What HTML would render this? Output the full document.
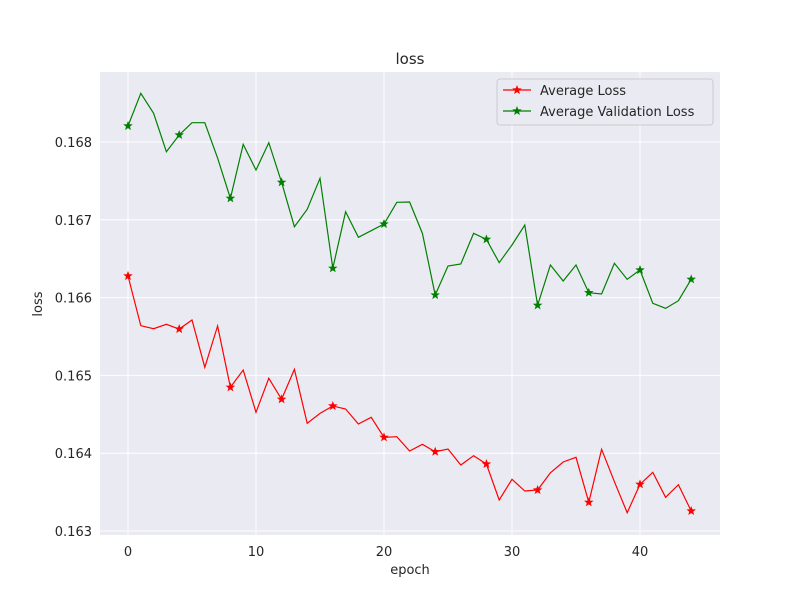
<!DOCTYPE html>
<html><head><meta charset="utf-8"><style>
body{margin:0;background:#fff;}
svg text{font-family:"DejaVu Sans","Liberation Sans",sans-serif;fill:#262626;}
</style></head><body>
<svg id="chart" width="800" height="600">
<rect x="100" y="72" width="620" height="463" fill="#eaeaf2"/>
<g id="grid"></g><g id="ticks"></g><g id="series"></g>
<text x="410" y="64" text-anchor="middle" font-size="15">loss</text>
<text x="410" y="574" text-anchor="middle" font-size="13">epoch</text>
<text transform="translate(42,304) rotate(-90)" text-anchor="middle" font-size="13">loss</text>
<g>
<rect x="497" y="79" width="216" height="46" rx="3" fill="#eaeaf2" stroke="#cccccc"/>
<g>
<line x1="503" y1="90" x2="531" y2="90" stroke="#ff0000" stroke-width="1.2"/>
<polygon id="lgs1" fill="#ff0000"/>
<text x="540" y="95" font-size="13">Average Loss</text></g>
<g>
<line x1="503" y1="111" x2="531" y2="111" stroke="#008000" stroke-width="1.2"/>
<polygon id="lgs2" fill="#008000"/>
<text x="540" y="116" font-size="13">Average Validation Loss</text></g>
</g>
</svg>
<script>
const epochs = Array.from({length:45},(_, i)=>i);
const avgLoss = [0.166278,0.165639,0.165600,0.165657,0.165596,0.165712,0.165104,0.165635,0.164847,0.165069,0.164526,0.164963,0.164693,0.165078,0.164384,0.164512,0.164607,0.164568,0.164375,0.164461,0.164204,0.164212,0.164028,0.164114,0.164019,0.164054,0.163848,0.163968,0.163861,0.163399,0.163665,0.163514,0.163527,0.163749,0.163887,0.163947,0.163369,0.164050,0.163634,0.163235,0.163600,0.163754,0.163433,0.163595,0.163257];
const avgValLoss = [0.168206,0.168626,0.168369,0.167875,0.168090,0.168248,0.168248,0.167794,0.167276,0.167970,0.167640,0.167991,0.167482,0.166911,0.167135,0.167533,0.166377,0.167104,0.166775,0.166860,0.166946,0.167225,0.167229,0.166826,0.166033,0.166406,0.166432,0.166826,0.166749,0.166449,0.166676,0.166933,0.165901,0.166419,0.166213,0.166419,0.166063,0.166046,0.166441,0.166235,0.166355,0.165927,0.165862,0.165960,0.166235];
const xTicks = [0,10,20,30,40];
const yTicks = [0.163,0.164,0.165,0.166,0.167,0.168];
const NS='http://www.w3.org/2000/svg';
const X = v => 128 + v*12.8;
const Y = v => 142 + (0.168 - v)/0.001*77.8;
function mk(tag, attrs, parent){const e=document.createElementNS(NS,tag);for(const k in attrs)e.setAttribute(k,attrs[k]);parent.appendChild(e);return e;}
function star(cx,cy,r){let p=[];for(let i=0;i<10;i++){const rr=i%2?r*0.42:r;const a=-Math.PI/2+i*Math.PI/5;p.push((cx+rr*Math.cos(a)).toFixed(2)+','+(cy+rr*Math.sin(a)).toFixed(2));}return p.join(' ');}
const grid=document.getElementById('grid'), ticks=document.getElementById('ticks'), series=document.getElementById('series');
xTicks.forEach(t=>{
  const l=mk('line',{x1:X(t),x2:X(t),y1:72,y2:535,stroke:'#fff','stroke-width':1},grid);
  
  
  const tx=mk('text',{x:X(t),y:556,'text-anchor':'middle','font-size':13},ticks);
  tx.textContent=t;
  
  
});
yTicks.forEach(t=>{
  const l=mk('line',{x1:100,x2:720,y1:Y(t),y2:Y(t),stroke:'#fff','stroke-width':1},grid);
  
  
  const tx=mk('text',{x:92,y:Y(t)+5,'text-anchor':'end','font-size':13},ticks);
  tx.textContent=t.toFixed(3);
  
  
});
function drawSeries(vals,color,name){
  const pl=mk('polyline',{points:vals.map((v,i)=>X(epochs[i])+','+Y(v)).join(' '),fill:'none',stroke:color,'stroke-width':1.2},series);
  
  
  vals.forEach((v,i)=>{ if(i%4===0){
    const s=mk('polygon',{points:star(X(epochs[i]),Y(v),5),fill:color},series);
    
    
  }});
}
drawSeries(avgLoss,'#ff0000','average-loss');
drawSeries(avgValLoss,'#008000','average-validation-loss');
document.getElementById('lgs1').setAttribute('points',star(517,90,5));
document.getElementById('lgs2').setAttribute('points',star(517,111,5));
</script>
</body></html>
